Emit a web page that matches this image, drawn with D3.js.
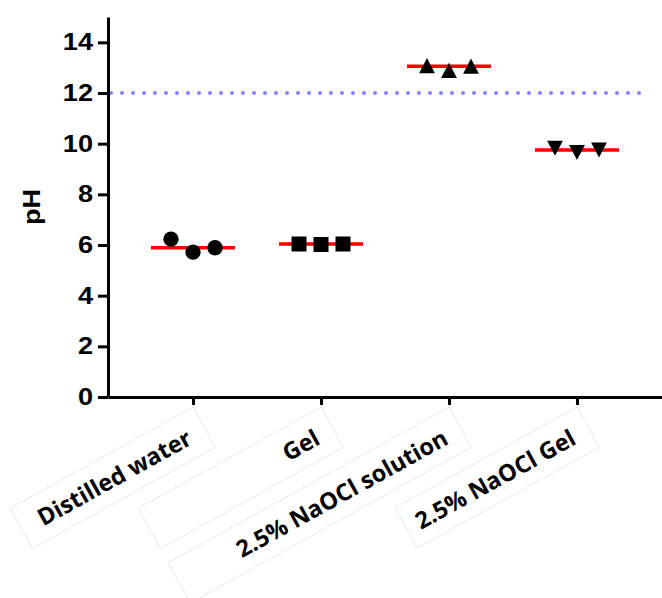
<!DOCTYPE html>
<html>
<head>
<meta charset="utf-8">
<script src="https://cdn.jsdelivr.net/npm/d3@7"></script>
<style>
  body { margin: 0; background: #fff; }
  svg { display: block; }
</style>
</head>
<body>
<svg id="chart" width="662" height="598"></svg>
<script>
// groups on the x axis
var categories = ["Distilled water", "Gel", "2.5% NaOCl solution", "2.5% NaOCl Gel"];
// pH of the three replicates per group
var distilledWater = [6.23, 5.72, 5.89];
var gel = [6.04, 6.02, 6.04];
var naoclSolution = [13.08, 12.89, 13.06];
var naoclGel = [9.82, 9.65, 9.75];
var series = [distilledWater, gel, naoclSolution, naoclGel];
var markers = ["circle", "square", "triangle", "triangleDown"];
var replicates = [0, 1, 2];
// axis ticks and reference line
var yTicks = [0, 2, 4, 6, 8, 10, 12, 14];
var refLine = 12;

var svg = d3.select("#chart");

var x = d3.scalePoint().domain(categories).range([108, 662]).padding(0.664);
var y = d3.scaleLinear().domain([0, 15]).range([397, 17]);
// spread of the replicate dots round the group centre
var jitter = d3.scalePoint().domain(replicates).range([-22, 22]);

var MED_HALF = 42;
var BOX_H = 46, ANGLE = -29;
// the label text boxes are not all the same width
var boxWidth = { "Distilled water": 209, "Gel": 209, "2.5% NaOCl solution": 321, "2.5% NaOCl Gel": 208 };
var WIDE = 1.18;   // the original sans text is drawn wider than Arial

// triangles centred on their bounding box, like the original plot
var triUp = { draw: function(ctx, size) {
	var w = Math.sqrt(size), h = w * 0.96;
	ctx.moveTo(0, -h / 2); ctx.lineTo(w / 2, h / 2); ctx.lineTo(-w / 2, h / 2); ctx.closePath();
} };
var triDown = { draw: function(ctx, size) {
	var w = Math.sqrt(size), h = w * 0.96;
	ctx.moveTo(0, h / 2); ctx.lineTo(w / 2, -h / 2); ctx.lineTo(-w / 2, -h / 2); ctx.closePath();
} };
var symbolFor = {
	circle: d3.symbol().type(d3.symbolCircle).size(185),
	square: d3.symbol().type(d3.symbolSquare).size(225),
	triangle: d3.symbol().type(triUp).size(250),
	triangleDown: d3.symbol().type(triDown).size(250)
};

// reference line at pH 12
svg.append("line")
	.attr("x1", 111).attr("x2", 643)
	.attr("y1", y(refLine)).attr("y2", y(refLine))
	.attr("stroke", "#8383ff")
	.attr("stroke-width", 4)
	.attr("stroke-linecap", "round")
	.attr("stroke-dasharray", "0,11");

// y axis
var yAxis = svg.append("g")
	.attr("transform", "translate(108,0)")
	.call(d3.axisLeft(y).tickValues(yTicks).tickSize(10).tickSizeOuter(0).tickPadding(5));
yAxis.select(".domain").attr("stroke-width", 3);
yAxis.selectAll(".tick line").attr("stroke-width", 3);
yAxis.selectAll(".tick text")
	.attr("x", 0)
	.attr("transform", "translate(-15,0) scale(" + WIDE + ",1)")
	.attr("font-family", "Liberation Sans, Arial, sans-serif")
	.attr("font-weight", "bold")
	.attr("font-size", "23px")
	.attr("fill", "#000");

// x axis
var xAxis = svg.append("g")
	.attr("transform", "translate(0,397)")
	.call(d3.axisBottom(x).tickSize(8).tickSizeOuter(0).tickFormat(""));
xAxis.select(".domain").attr("stroke-width", 3);
xAxis.selectAll(".tick line").attr("stroke-width", 3);

// axis title
svg.append("text")
	.attr("transform", "translate(40,207) rotate(-90) scale(" + WIDE + ",1)")
	.attr("text-anchor", "middle")
	.attr("font-family", "Liberation Sans, Arial, sans-serif")
	.attr("font-weight", "bold")
	.attr("font-size", "23px")
	.text("pH");

// boxed, rotated category labels
var labels = svg.selectAll(".xlabel")
	.data(categories)
	.enter()
	.append("g")
	.attr("class", "xlabel")
	.attr("transform", function(d) { return "translate(" + x(d) + ",407) rotate(" + ANGLE + ")"; });
labels.append("rect")
	.attr("x", function(d) { return -boxWidth[d]; }).attr("y", 0)
	.attr("width", function(d) { return boxWidth[d]; }).attr("height", BOX_H)
	.attr("fill", "none")
	.attr("stroke", "#c8c8c8")
	.attr("stroke-width", 0.8)
	.attr("stroke-dasharray", "1,1");
labels.append("text")
	.attr("x", -17).attr("y", 32)
	.attr("text-anchor", "end")
	.attr("font-family", "Open Sans, sans-serif")
	.attr("font-weight", "bold")
	.attr("font-size", "23.5px")
	.text(function(d) { return d; });

// median lines
svg.selectAll(".median")
	.data(categories)
	.enter()
	.append("line")
	.attr("class", "median")
	.attr("x1", function(d) { return x(d) - MED_HALF; })
	.attr("x2", function(d) { return x(d) + MED_HALF; })
	.attr("y1", function(d, i) { return y(d3.median(series[i])); })
	.attr("y2", function(d, i) { return y(d3.median(series[i])); })
	.attr("stroke", "#ff0000")
	.attr("stroke-width", 3.5);

// replicate points
categories.forEach(function(c, i) {
	svg.selectAll(".pt" + i)
		.data(series[i])
		.enter()
		.append("path")
		.attr("class", "pt" + i)
		.attr("d", symbolFor[markers[i]])
		.attr("transform", function(v, j) { return "translate(" + (x(c) + jitter(j)) + "," + y(v) + ")"; })
		.attr("fill", "#000");
});
</script>
</body>
</html>
